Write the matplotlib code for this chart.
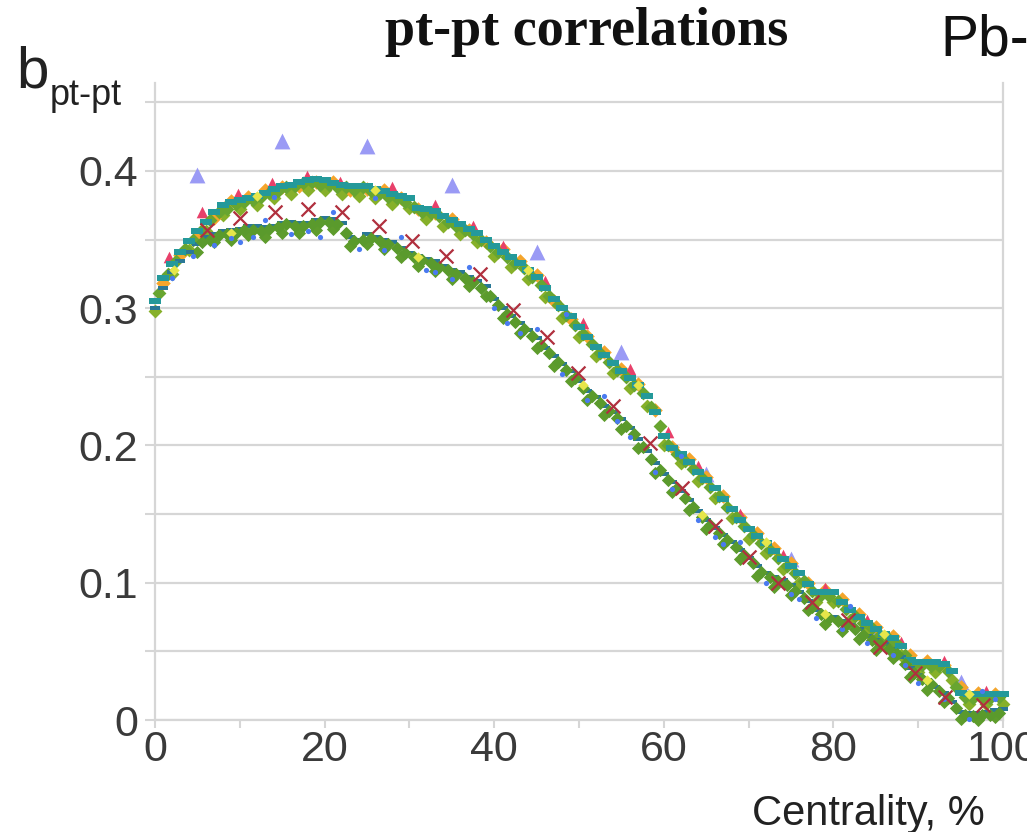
import numpy as np
import matplotlib
matplotlib.use("Agg")
import matplotlib.pyplot as plt
from matplotlib.ticker import MultipleLocator

# ---------------- data ----------------
# model comparison points (triangles)
tri_x = [5, 15, 25, 35, 45, 55, 65, 75, 85, 95]
tri_y = [0.397, 0.422, 0.418, 0.390, 0.341, 0.268, 0.179, 0.117, 0.062, 0.028]

# upper band, reading 1 (teal) at integer centrality
up_teal_x = list(range(0, 101))
up_teal_y = [0.305, 0.322, 0.332, 0.341, 0.349, 0.356, 0.363, 0.370, 0.375, 0.377,
             0.379, 0.380, 0.382, 0.384, 0.387, 0.389, 0.390, 0.392, 0.393, 0.394,
             0.393, 0.391, 0.390, 0.389, 0.389, 0.389, 0.387, 0.385, 0.383, 0.382,
             0.380, 0.373, 0.372, 0.371, 0.367, 0.364, 0.361, 0.358, 0.355, 0.350,
             0.345, 0.341, 0.337, 0.333, 0.328, 0.323, 0.315, 0.307, 0.300, 0.294,
             0.286, 0.279, 0.272, 0.266, 0.260, 0.254, 0.249, 0.244, 0.236, 0.224,
             0.207, 0.198, 0.194, 0.188, 0.181, 0.175, 0.169, 0.161, 0.154, 0.146,
             0.139, 0.134, 0.129, 0.123, 0.117, 0.112, 0.107, 0.099, 0.093, 0.093,
             0.093, 0.086, 0.080, 0.075, 0.071, 0.066, 0.063, 0.060, 0.054, 0.044,
             0.042, 0.042, 0.042, 0.041, 0.036, 0.020, 0.019, 0.019, 0.019, 0.019,
             0.019]

# upper band, reading 2 (green) at half-integer centrality
up_green_x = [k + 0.5 for k in range(0, 100)]
up_green_y = [0.311, 0.325, 0.334, 0.343, 0.350, 0.357, 0.364, 0.370, 0.372, 0.376,
              0.377, 0.379, 0.381, 0.384, 0.385, 0.388, 0.389, 0.391, 0.392, 0.390,
              0.390, 0.388, 0.388, 0.386, 0.388, 0.385, 0.384, 0.381, 0.380, 0.377,
              0.374, 0.370, 0.369, 0.367, 0.363, 0.360, 0.357, 0.354, 0.350, 0.345,
              0.341, 0.337, 0.333, 0.329, 0.323, 0.317, 0.309, 0.302, 0.295, 0.288,
              0.281, 0.274, 0.267, 0.261, 0.255, 0.250, 0.244, 0.238, 0.228, 0.214,
              0.200, 0.194, 0.189, 0.183, 0.176, 0.170, 0.163, 0.155, 0.148, 0.141,
              0.135, 0.129, 0.124, 0.118, 0.112, 0.107, 0.101, 0.094, 0.091, 0.090,
              0.087, 0.081, 0.076, 0.071, 0.067, 0.062, 0.059, 0.055, 0.047, 0.041,
              0.040, 0.039, 0.039, 0.036, 0.024, 0.017, 0.016, 0.017, 0.016, 0.017]

# upper band, reading 3 (orange) at odd centrality
up_orange_x = list(range(1, 100, 2))
up_orange_y = [0.318, 0.339, 0.352, 0.366, 0.378, 0.381, 0.386, 0.388, 0.389, 0.392,
               0.392, 0.386, 0.387, 0.386, 0.380, 0.372, 0.369, 0.365, 0.357, 0.348,
               0.343, 0.334, 0.324, 0.305, 0.292, 0.280, 0.268, 0.256, 0.245, 0.226,
               0.199, 0.190, 0.177, 0.163, 0.148, 0.136, 0.125, 0.114, 0.100, 0.095,
               0.088, 0.077, 0.068, 0.061, 0.047, 0.043, 0.040, 0.024, 0.020, 0.019]

# upper band, reading 4 (lime) at even centrality, lower edge of the band
up_lime_x = list(range(0, 101, 2))
up_lime_y = [0.298, 0.325, 0.342, 0.356, 0.368, 0.372, 0.375, 0.380, 0.383, 0.386,
             0.386, 0.383, 0.382, 0.380, 0.376, 0.373, 0.365, 0.360, 0.354, 0.348,
             0.338, 0.330, 0.321, 0.308, 0.293, 0.279, 0.265, 0.253, 0.242, 0.229,
             0.200, 0.187, 0.174, 0.162, 0.147, 0.132, 0.122, 0.110, 0.100, 0.086,
             0.086, 0.073, 0.064, 0.056, 0.047, 0.035, 0.035, 0.029, 0.012, 0.012,
             0.012]

# upper band, reading 5 (red), sparse, top edge
up_red_x = [1.6, 5.5, 9.8, 13.8, 17.9, 21.8, 28.0, 33.0, 37.5, 41.0, 46.0,
            50.5, 56.0, 60.5, 64.0, 69.0, 74.0, 79.0, 84.0, 88.0, 93.0, 98.0]
up_red_y = [0.337, 0.370, 0.383, 0.391, 0.396, 0.392, 0.388, 0.375, 0.360, 0.345,
            0.320, 0.289, 0.256, 0.210, 0.185, 0.150, 0.120, 0.096, 0.073, 0.057,
            0.043, 0.021]

# lower band, reading 1 (dark teal) at integer centrality
lo_teal_x = list(range(0, 101))
lo_teal_y = [0.300, 0.315, 0.326, 0.334, 0.341, 0.347, 0.352, 0.354, 0.356, 0.357,
             0.358, 0.360, 0.360, 0.359, 0.360, 0.362, 0.363, 0.362, 0.362, 0.364,
             0.366, 0.365, 0.362, 0.352, 0.350, 0.354, 0.352, 0.350, 0.348, 0.344,
             0.340, 0.338, 0.336, 0.334, 0.331, 0.328, 0.326, 0.323, 0.320, 0.316,
             0.307, 0.300, 0.294, 0.289, 0.284, 0.278, 0.271, 0.265, 0.259, 0.254,
             0.247, 0.240, 0.235, 0.229, 0.224, 0.219, 0.213, 0.205, 0.196, 0.187,
             0.179, 0.173, 0.167, 0.160, 0.152, 0.146, 0.140, 0.135, 0.130, 0.124,
             0.118, 0.112, 0.107, 0.104, 0.102, 0.098, 0.093, 0.087, 0.080, 0.077,
             0.075, 0.072, 0.069, 0.066, 0.061, 0.058, 0.055, 0.052, 0.046, 0.038,
             0.033, 0.029, 0.024, 0.020, 0.013, 0.006, 0.005, 0.005, 0.006, 0.007,
             0.008]

# lower band, reading 2 (green) at half-integer centrality
lo_green_x = [k + 0.5 for k in range(5, 100)]
lo_green_y = [0.348, 0.350, 0.353, 0.354, 0.355, 0.357, 0.357, 0.356, 0.358, 0.359,
              0.361, 0.360, 0.360, 0.361, 0.363, 0.363, 0.361, 0.355, 0.349, 0.350,
              0.351, 0.349, 0.347, 0.344, 0.340, 0.337, 0.335, 0.333, 0.330, 0.328,
              0.325, 0.322, 0.319, 0.315, 0.309, 0.302, 0.296, 0.290, 0.285, 0.280,
              0.273, 0.267, 0.261, 0.255, 0.249, 0.242, 0.236, 0.231, 0.225, 0.220,
              0.214, 0.208, 0.199, 0.190, 0.182, 0.175, 0.169, 0.162, 0.155, 0.148,
              0.142, 0.136, 0.131, 0.126, 0.120, 0.114, 0.108, 0.104, 0.101, 0.098,
              0.094, 0.089, 0.082, 0.077, 0.074, 0.072, 0.069, 0.066, 0.062, 0.058,
              0.055, 0.052, 0.048, 0.041, 0.034, 0.030, 0.026, 0.021, 0.016, 0.009,
              0.004, 0.003, 0.004, 0.004, 0.005]

# lower band, reading 3 at odd centrality, lower edge of the band
lo_lime_x = list(range(5, 100, 2))
lo_lime_y = [0.341, 0.348, 0.350, 0.353, 0.352, 0.355, 0.355, 0.357, 0.358, 0.345,
             0.347, 0.343, 0.337, 0.331, 0.327, 0.321, 0.316, 0.309, 0.293, 0.282,
             0.271, 0.258, 0.247, 0.233, 0.222, 0.212, 0.198, 0.180, 0.166, 0.153,
             0.139, 0.128, 0.117, 0.105, 0.097, 0.091, 0.080, 0.070, 0.065, 0.059,
             0.051, 0.045, 0.031, 0.022, 0.013, 0.001, 0.000, 0.002]

# lower band, scattered small blue points
lo_blue_x = [2, 4.5, 7, 9, 11.5, 13, 16, 18, 21, 24, 27, 29, 32, 35, 37, 40, 43, 45,
             48, 51, 53, 56, 59, 61, 64, 67, 69, 72, 75, 78, 81, 84, 87, 90, 93, 96, 99,
             14, 26, 48.5, 62, 82, 10, 19.5, 33, 41.5, 54.5, 66, 76, 88.5, 97.5]
lo_blue_y = [0.322, 0.338, 0.346, 0.351, 0.352, 0.364, 0.354, 0.356, 0.370, 0.343,
             0.342, 0.352, 0.328, 0.321, 0.330, 0.300, 0.282, 0.285, 0.252, 0.233,
             0.236, 0.206, 0.181, 0.168, 0.146, 0.128, 0.130, 0.100, 0.092, 0.074,
             0.066, 0.056, 0.047, 0.027, 0.015, 0.001, 0.015,
             0.381, 0.380, 0.296, 0.192, 0.083, 0.348, 0.352, 0.326, 0.289, 0.218,
             0.133, 0.088, 0.040, 0.021]

# lower band, red crosses
lo_x_x = [6.1, 10.0, 14.2, 18.0, 22.0, 26.4, 30.3, 34.3, 38.3, 42.2, 46.2, 49.9,
          54.0, 58.4, 62.1, 66.0, 70.0, 73.5, 77.5, 81.7, 85.5, 89.6, 93.2, 97.6]
lo_x_y = [0.357, 0.366, 0.370, 0.372, 0.370, 0.360, 0.349, 0.338, 0.325, 0.299,
          0.279, 0.253, 0.229, 0.202, 0.169, 0.141, 0.119, 0.100, 0.086, 0.073,
          0.053, 0.034, 0.017, 0.011]

# a few yellow points
yel_x = [2.2, 12.0, 26.0, 44.0, 57.0, 72.0, 86.0, 96.0, 9.0, 31.0, 50.5, 64.5, 79.0, 91.0]
yel_y = [0.328, 0.382, 0.386, 0.328, 0.244, 0.130, 0.063, 0.019,
         0.355, 0.337, 0.244, 0.149, 0.077, 0.029]

y_major = [0, 0.1, 0.2, 0.3, 0.4]
y_major_labels = ["0", "0.1", "0.2", "0.3", "0.4"]
x_major = [0, 20, 40, 60, 80, 100]
x_major_labels = ["0", "20", "40", "60", "80", "100"]

# ---------------- figure ----------------
W, H = 1027, 832
fig = plt.figure(figsize=(W / 100, H / 100), dpi=100)
fig.patch.set_facecolor("white")
ax = fig.add_axes([155 / W, 1 - 720 / H, (1003 - 155) / W, (720 - 83) / H])
ax.set_xlim(0, 100)
ax.set_ylim(0, 0.464)

gridc = "#d6d6d6"
ax.spines["top"].set_visible(False)
for s in ["left", "right", "bottom"]:
    ax.spines[s].set_color(gridc)
    ax.spines[s].set_linewidth(1.6)

ax.set_yticks(y_major)
ax.set_yticklabels(y_major_labels)
ax.yaxis.set_minor_locator(MultipleLocator(0.05))
ax.set_xticks(x_major)
ax.set_xticklabels(x_major_labels)
ax.xaxis.set_minor_locator(MultipleLocator(10))
ax.grid(axis="y", which="both", color=gridc, linewidth=1.6, zorder=0)
ax.set_axisbelow(True)

for lab in ax.get_xticklabels() + ax.get_yticklabels():
    lab.set_fontfamily("Liberation Sans")
    lab.set_fontsize(31)
    lab.set_color("#3a3a3a")
ax.tick_params(axis="y", which="both", length=7, width=1.5, color=gridc, pad=5)
ax.tick_params(axis="x", which="both", length=6, width=1.5, color=gridc, pad=1)

dash = [(-1.0, -0.45), (1.0, -0.45), (1.0, 0.45), (-1.0, 0.45)]
common = dict(clip_on=False, linewidths=0)
# triangles
ax.scatter(tri_x, tri_y, marker="^", s=130, color="#9a9af5", zorder=2, **common)
# upper band
ax.scatter(up_lime_x, up_lime_y, marker="D", s=50, color="#86b02a", zorder=3, **common)
ax.scatter(up_orange_x, up_orange_y, marker="D", s=55, color="#f4a52c", zorder=3, **common)
ax.scatter(up_red_x, up_red_y, marker="^", s=70, color="#e8406a", zorder=3, **common)
ax.scatter(up_green_x, up_green_y, marker="D", s=50, color="#68a530", zorder=4, **common)
ax.scatter(up_teal_x, up_teal_y, marker=dash, s=70, color="#24999a", zorder=5, **common)
# lower band
ax.scatter(lo_lime_x, lo_lime_y, marker="D", s=45, color="#5e9c2c", zorder=3, **common)
ax.scatter(lo_teal_x, lo_teal_y, marker=dash, s=55, color="#2a7896", zorder=4, **common)
ax.scatter(lo_green_x, lo_green_y, marker="D", s=46, color="#5a9a2c", zorder=5, **common)
ax.scatter(yel_x, yel_y, marker="D", s=28, color="#e6e64a", zorder=5, **common)
ax.scatter(lo_blue_x, lo_blue_y, marker="o", s=14, color="#4a7af0", zorder=6, **common)
ax.scatter(lo_x_x, lo_x_y, marker="x", s=100, color="#b0303e", linewidths=1.6,
           zorder=7, clip_on=False)

# ---------------- texts ----------------
fig.text(587 / W, 1 - 45 / H, "pt-pt correlations", ha="center", va="baseline",
         family="Liberation Serif", weight="bold", fontsize=39, color="#111111")
fig.text(940 / W, 1 - 55 / H, "Pb-", ha="left", va="baseline",
         family="Liberation Sans", fontsize=41, color="#111111")
fig.text(16 / W, 1 - 87 / H, "b", ha="left", va="baseline",
         family="Liberation Sans", fontsize=42, color="#222222")
fig.text(50 / W, 1 - 105 / H, "pt-pt", ha="left", va="baseline",
         family="Liberation Sans", fontsize=26, color="#222222")
fig.text(985 / W, 1 - 825 / H, "Centrality, %", ha="right", va="baseline",
         family="Liberation Sans", fontsize=30, color="#222222")

fig.savefig("out.png", dpi=100, facecolor="white")
